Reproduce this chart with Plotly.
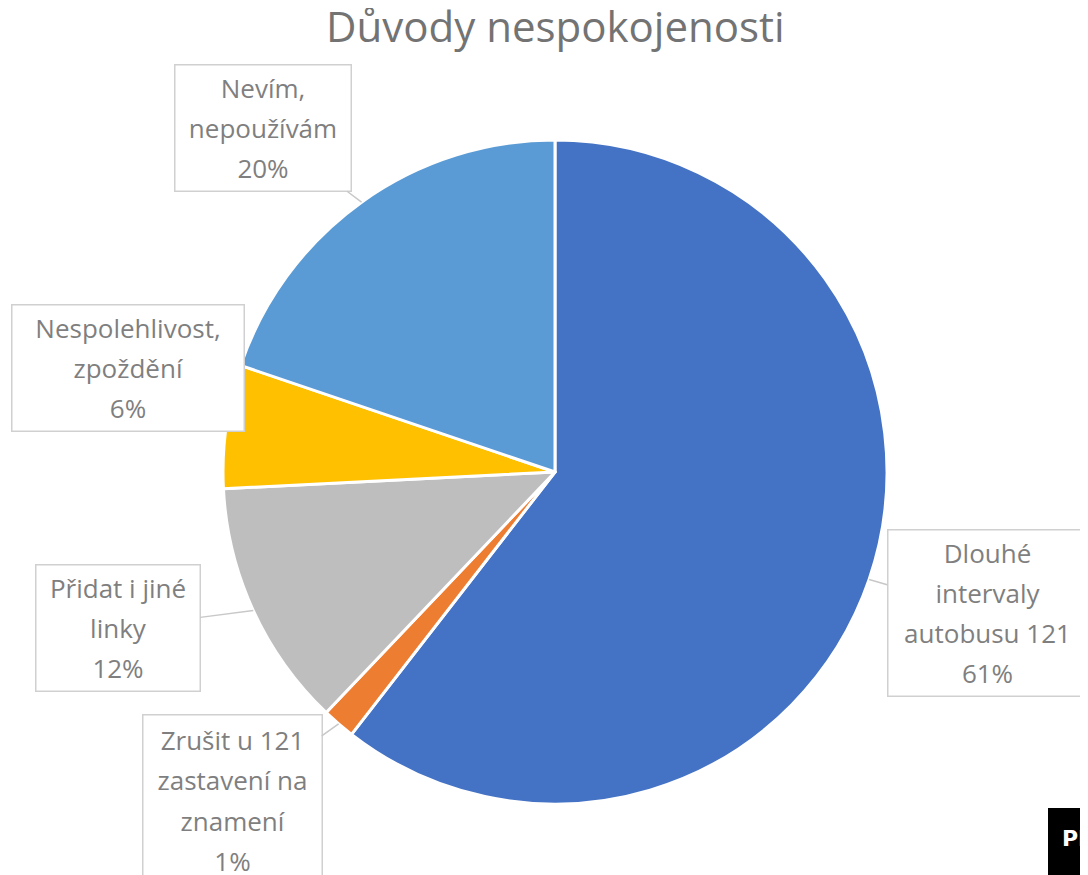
import math
import plotly.graph_objects as go

# data
reasons = ["Dlouhé<br>intervaly<br>autobusu 121", "Zrušit u 121<br>zastavení na<br>znamení",
           "Přidat i jiné<br>linky", "Nespolehlivost,<br>zpoždění", "Nevím,<br>nepoužívám"]
shares = [60.5, 1.6, 12.1, 6.0, 19.8]
pct_labels = ["61%", "1%", "12%", "6%", "20%"]
colors = ["#4472C4", "#ED7D31", "#BEBEBE", "#FFC000", "#5B9BD5"]

# page has an 8px body margin, so the figure is a bit smaller and offset
OFF = 8
W, H = 1088 - OFF, 875 - OFF
cx, cy, r = 555, 472, 332


def px2paper(X, Y):
    return (X - OFF) / W, 1 - (Y - OFF) / H


# callout box centres (px in the window) and sizes
box_pos = [(987, 613), (232, 800), (118, 628), (128, 368), (263, 128)]
box_size = [(198, 165), (178, 170), (163, 125), (231, 125), (175, 125)]

fig = go.Figure()
x0, y1 = px2paper(cx - r, cy - r)
x1, y0 = px2paper(cx + r, cy + r)
fig.add_trace(go.Pie(
    labels=[s.replace("<br>", " ") for s in reasons], values=shares,
    sort=False, direction="clockwise", rotation=0,
    marker=dict(colors=colors, line=dict(color="white", width=3)),
    textinfo="none", hoverinfo="label+percent",
    domain=dict(x=[x0, x1], y=[y0, y1]),
    showlegend=False,
))

total = sum(shares)
start = 0.0
for i, v in enumerate(shares):
    mid = (start + v / 2) / total * 2 * math.pi
    start += v
    px = cx + r * math.sin(mid)
    py = cy - r * math.cos(mid)
    bx, by = box_pos[i]
    bw, bh = box_size[i]
    lines = (reasons[i] + "<br>" + pct_labels[i]).split("<br>")
    txt = "<br>".join("<span style='font-size:26px'>%s</span>" % ln for ln in lines)
    ax_, ay_ = px2paper(px, py)
    fig.add_annotation(
        x=ax_, y=ay_, xref="paper", yref="paper",
        ax=bx - px, ay=by - py,
        text=txt,
        showarrow=True, arrowhead=0, arrowwidth=1.5, arrowcolor="#C8C8C8",
        width=bw, height=bh, align="center", valign="middle",
        bgcolor="white", bordercolor="#D0D0D0", borderwidth=1.5, borderpad=0,
        font=dict(family="Open Sans", size=31, color="#7F7F7F"),
    )

tx, ty = px2paper(cx, 26)
fig.add_annotation(
    x=tx, y=ty, xref="paper", yref="paper", showarrow=False,
    text="Důvody nespokojenosti", xanchor="center", yanchor="middle",
    font=dict(family="Open Sans", size=42, color="#737373"),
)

# cut-off logo in the corner
lx, ly = px2paper(1048, 808)
fig.add_shape(type="rect", xref="paper", yref="paper",
              x0=lx, x1=1, y0=0, y1=ly,
              fillcolor="black", line=dict(width=0))
tx, ty = px2paper(1060, 838)
fig.add_annotation(x=tx, y=ty, xref="paper", yref="paper",
                   text="<b>PR</b>", showarrow=False, xanchor="left", yanchor="middle",
                   font=dict(family="DejaVu Sans", size=22, color="white"))

fig.update_layout(
    width=W, height=H, margin=dict(l=0, r=0, t=0, b=0),
    paper_bgcolor="white", plot_bgcolor="white",
)

fig.write_html("out.html")
